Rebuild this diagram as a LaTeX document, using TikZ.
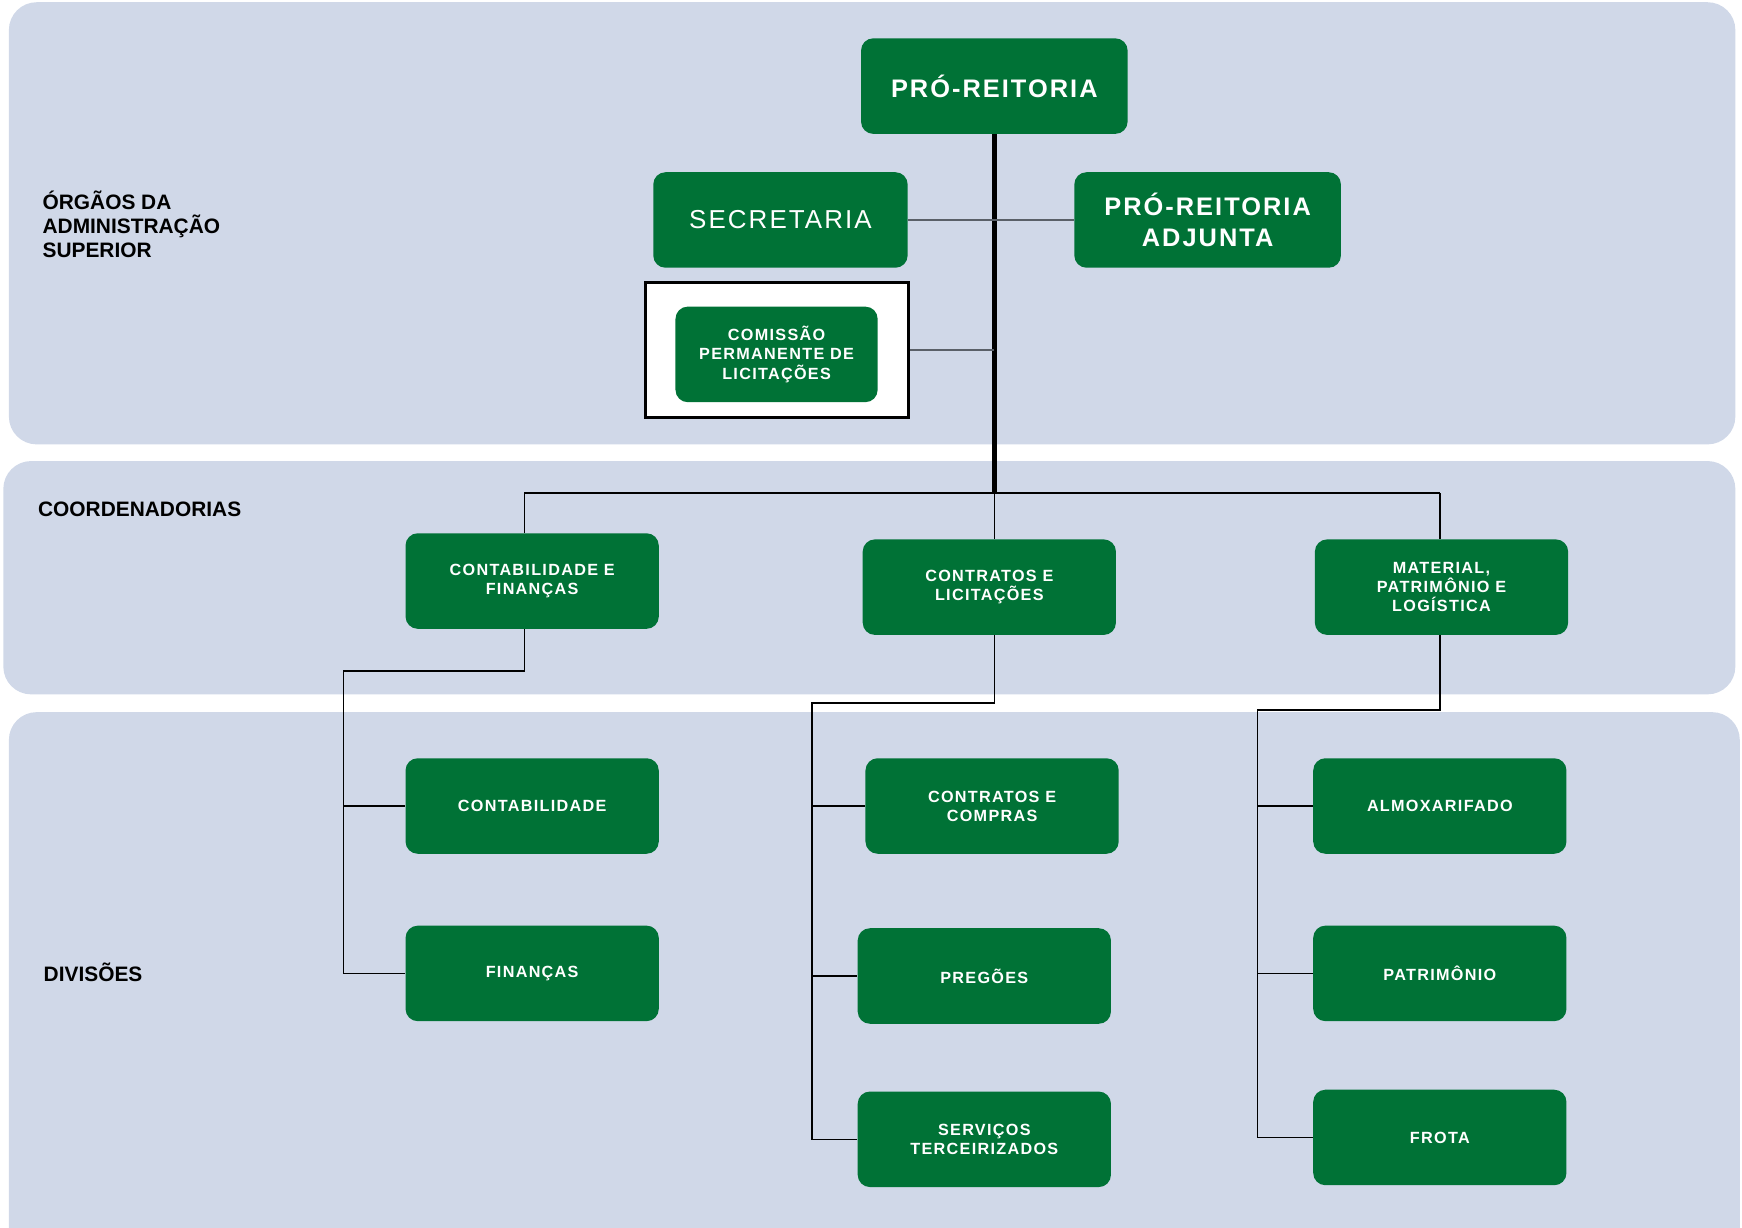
\documentclass[tikz,border=0pt]{standalone}
\usepackage{fontspec}
\setmainfont{Liberation Sans}
\newfontfamily\boxfont[LetterSpace=8]{Liberation Sans}
\usetikzlibrary{positioning}
\definecolor{bandblue}{RGB}{208,216,232}
\definecolor{unitgreen}{RGB}{0,114,54}
\definecolor{linkgray}{RGB}{90,96,104}

\begin{document}
\begin{tikzpicture}[x=0.02cm,y=-0.02cm,
  box/.style={fill=unitgreen,rounded corners=0.22cm,text=white,align=center,minimum height=1.72cm,inner sep=2pt},
  topbox/.style={box,minimum width=4.8cm,font=\boxfont\bfseries\fontsize{13}{15.9}\selectfont},
  unitbox/.style={box,minimum width=4.56cm,font=\boxfont\bfseries\fontsize{8.3}{9.8}\selectfont},
  level/.style={anchor=west,inner sep=0pt,align=left,font=\bfseries\fontsize{10.7}{12.2}\selectfont},
  link/.style={line width=0.8pt}]
  \useasboundingbox (0,0) rectangle (1568,1105.3);

  % faixas de fundo
  \fill[bandblue,rounded corners=0.5cm] (8,2) rectangle (1562,400);
  \fill[bandblue,rounded corners=0.5cm] (3,415) rectangle (1562,625);
  \fill[bandblue,rounded corners=0.5cm] (8,641) rectangle (1566,1160);

  \node[level] (lsup) at (38,202) {ÓRGÃOS DA\\ADMINISTRAÇÃO\\SUPERIOR};
  \node[level] (lcoord) at (34,458) {COORDENADORIAS};
  \node[level] (ldiv) at (39,875) {DIVISÕES};

  % administracao superior
  \node[topbox] (pr) at (895,77.5) {PRÓ-REITORIA};
  \node[box,minimum width=4.58cm,font=\boxfont\fontsize{13.3}{16}\selectfont] (sec) at (702.5,198) {SECRETARIA};
  \node[topbox] (adj) at (1087,198) {PRÓ-REITORIA\\ADJUNTA};
  \node[draw,fill=white,line width=0.06cm,minimum width=4.74cm,minimum height=2.44cm] (cplframe) at (699.5,315) {};
  \node[unitbox,minimum width=3.64cm] (cpl) at (699,319) {COMISSÃO\\PERMANENTE DE\\LICITAÇÕES};

  % coordenadorias
  \node[unitbox] (cf) at (479,523) {CONTABILIDADE E\\FINANÇAS};
  \node[unitbox] (cl) at (890.5,528.5) {CONTRATOS E\\LICITAÇÕES};
  \node[unitbox] (mpl) at (1297.5,528.5) {MATERIAL,\\PATRIMÔNIO E\\LOGÍSTICA};

  % divisoes
  \node[unitbox] (cont) at (479,725.5) {CONTABILIDADE};
  \node[unitbox,below=1.28cm of cont] (fin) {FINANÇAS};
  \node[unitbox] (cc) at (893,725.5) {CONTRATOS E\\COMPRAS};
  \node[unitbox] (preg) at (886,878.5) {PREGÕES};
  \node[unitbox] (serv) at (886,1025.5) {SERVIÇOS\\TERCEIRIZADOS};
  \node[unitbox] (alm) at (1296,725.5) {ALMOXARIFADO};
  \node[unitbox,below=1.28cm of alm] (pat) {PATRIMÔNIO};
  \node[unitbox,below=1.22cm of pat] (frota) {FROTA};

  \coordinate (hub) at (895,444);
  \coordinate (cfup) at (472,444);
  \coordinate (mplup) at (1296,444);
  \coordinate (cfbus) at (309,604);
  \coordinate (clbus) at (731,633);
  \coordinate (mplbus) at (1132,639);

  \draw[line width=0.1cm] (pr) -- (hub);
  \draw[link,linkgray] (sec) -- (adj);
  \draw[link,linkgray] (cplframe.east) -- (cplframe.east -| hub);
  \draw[link] (cfup) -- (mplup);
  \draw[link] (cfup) -- (cf.north -| cfup);
  \draw[link] (hub) -- (cl.north -| hub);
  \draw[link] (mplup) -- (mpl.north -| mplup);
  \draw[link] (cf.south -| cfup) |- (cfbus) |- (fin.west);
  \draw[link] (cfbus |- cont.west) -- (cont.west);
  \draw[link] (cl.south -| hub) |- (clbus) |- (serv.west);
  \foreach \n in {cc,preg} \draw[link] (clbus |- \n.west) -- (\n.west);
  \draw[link] (mpl.south -| mplup) |- (mplbus) |- (frota.west);
  \foreach \n in {alm,pat} \draw[link] (mplbus |- \n.west) -- (\n.west);
\end{tikzpicture}
\end{document}
